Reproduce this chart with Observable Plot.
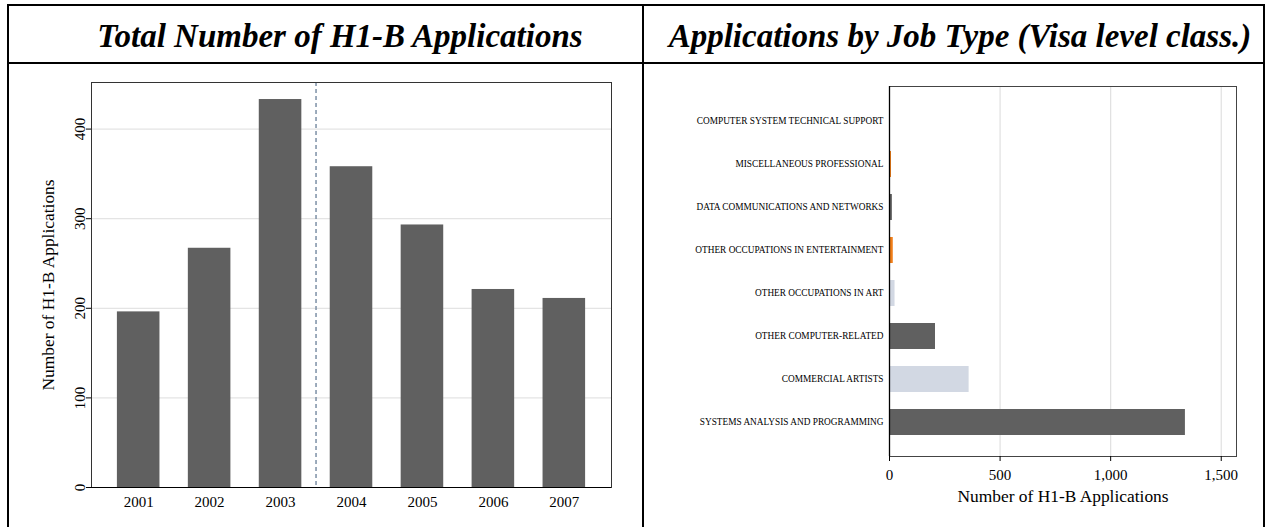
<!DOCTYPE html>
<html><head><meta charset="utf-8">
<script src="https://cdn.jsdelivr.net/npm/d3@7"></script>
<script src="https://cdn.jsdelivr.net/npm/@observablehq/plot@0.6"></script>
<style>
body{margin:0;background:#fff;width:1267px;height:527px;overflow:hidden;position:relative;font-family:"Liberation Serif",serif}
.box{position:absolute;left:7px;top:4px;width:1254px;height:600px;border:2px solid #000}
.hline{position:absolute;left:7px;top:62px;width:1258px;height:2px;background:#000}
.vline{position:absolute;left:642px;top:4px;width:2px;height:600px;background:#000}
.title{position:absolute;top:6px;height:56px;line-height:60px;text-align:center;font-weight:bold;font-style:italic;font-size:33px;white-space:nowrap}
#left{position:absolute;left:9px;top:66px}
#right{position:absolute;left:644px;top:66px}
</style></head>
<body>
<div class="box"></div>
<div class="hline"></div>
<div class="vline"></div>
<div class="title" style="left:20px;width:640px">Total Number of H1-B Applications</div>
<div class="title" style="left:651px;width:618px">Applications by Job Type (Visa level class.)</div>
<div id="left"></div>
<div id="right"></div>
<script>
// Left chart data
const years = [2001, 2002, 2003, 2004, 2005, 2006, 2007];
const totals = [196, 267, 433, 358, 293, 221, 211];
const policyYear = 2003.5;
const yTicks = [0, 100, 200, 300, 400];
const axisLabel = "Number of H1-B Applications";

// Right chart data
const jobTypes = [
  "COMPUTER SYSTEM TECHNICAL SUPPORT",
  "MISCELLANEOUS PROFESSIONAL",
  "DATA COMMUNICATIONS AND NETWORKS",
  "OTHER OCCUPATIONS IN ENTERTAINMENT",
  "OTHER OCCUPATIONS IN ART",
  "OTHER COMPUTER-RELATED",
  "COMMERCIAL ARTISTS",
  "SYSTEMS ANALYSIS AND PROGRAMMING"
];
const jobCounts = [3, 9, 13, 17, 25, 208, 360, 1338];
const jobGroups = ["Computer", "Other", "Computer", "Other", "Art", "Computer", "Art", "Computer"];
const xTicksRight = [0, 500, 1000, 1500];

const yearData = years.map((y, i) => ({year: y, value: totals[i]}));
const jobData = jobTypes.map((t, i) => ({type: t, count: jobCounts[i], group: jobGroups[i]}));

const font = {fontFamily: "Liberation Serif", fontSize: "15px", color: "#000", background: "#fff", overflow: "visible"};

const left = Plot.plot({
  width: 633, height: 460,
  marginLeft: 82, marginRight: 31, marginTop: 16, marginBottom: 39,
  style: font,
  x: {type: "linear", domain: [2000.335, 2007.665]},
  y: {domain: [0, 452]},
  marks: [
    Plot.gridY(yTicks.slice(1), {stroke: "#e4e4e4", strokeOpacity: 1, strokeWidth: 1.2}),
    Plot.rectY(yearData, {x1: d => d.year - 0.3, x2: d => d.year + 0.3, y: "value", fill: "#606060"}),
    Plot.ruleX([policyYear], {stroke: "#7d90a6", strokeWidth: 1.5, strokeDasharray: "4,3"}),
    Plot.frame({stroke: "#333"}),
    Plot.ruleY([0], {stroke: "#000"}),
    Plot.axisX({ticks: years, tickFormat: d => String(d), tickSize: 0, tickPadding: 9, fontSize: 15, label: null}),
    Plot.axisY({ticks: yTicks, tickSize: 5, tickPadding: 2, tickRotate: -90, fontSize: 15, label: null}),
    Plot.text([axisLabel], {frameAnchor: "left", rotate: -90, dx: -43, textAnchor: "middle", lineAnchor: "middle", fontSize: 17.4, fill: "#000"})
  ]
});
document.getElementById("left").appendChild(left);

const right = Plot.plot({
  width: 618, height: 460,
  marginLeft: 245, marginRight: 26, marginTop: 20, marginBottom: 70,
  style: font,
  x: {domain: [0, 1569]},
  y: {domain: jobTypes, paddingInner: 0.4, paddingOuter: 0.5},
  color: {domain: ["Computer", "Other", "Art"], range: ["#606060", "#f07e18", "#d2d8e3"]},
  marks: [
    Plot.gridX(xTicksRight.slice(1), {stroke: "#e0e0e0", strokeOpacity: 1, strokeWidth: 1.2}),
    Plot.barX(jobData, {x: "count", y: "type", fill: "group"}),
    Plot.frame({stroke: "#444"}),
    Plot.ruleX([0], {stroke: "#000", strokeWidth: 1.3}),
    Plot.axisX({ticks: xTicksRight, tickFormat: d3.format(","), tickSize: 5, tickPadding: 8, fontSize: 15, label: null}),
    Plot.text([axisLabel], {frameAnchor: "bottom", dy: 40, lineAnchor: "middle", fontSize: 17.4, fill: "#000"}),
    Plot.axisY({tickSize: 0, tickPadding: 6, fontSize: 9.3, fill: "#000", label: null})
  ]
});
document.getElementById("right").appendChild(right);
</script>
</body></html>
